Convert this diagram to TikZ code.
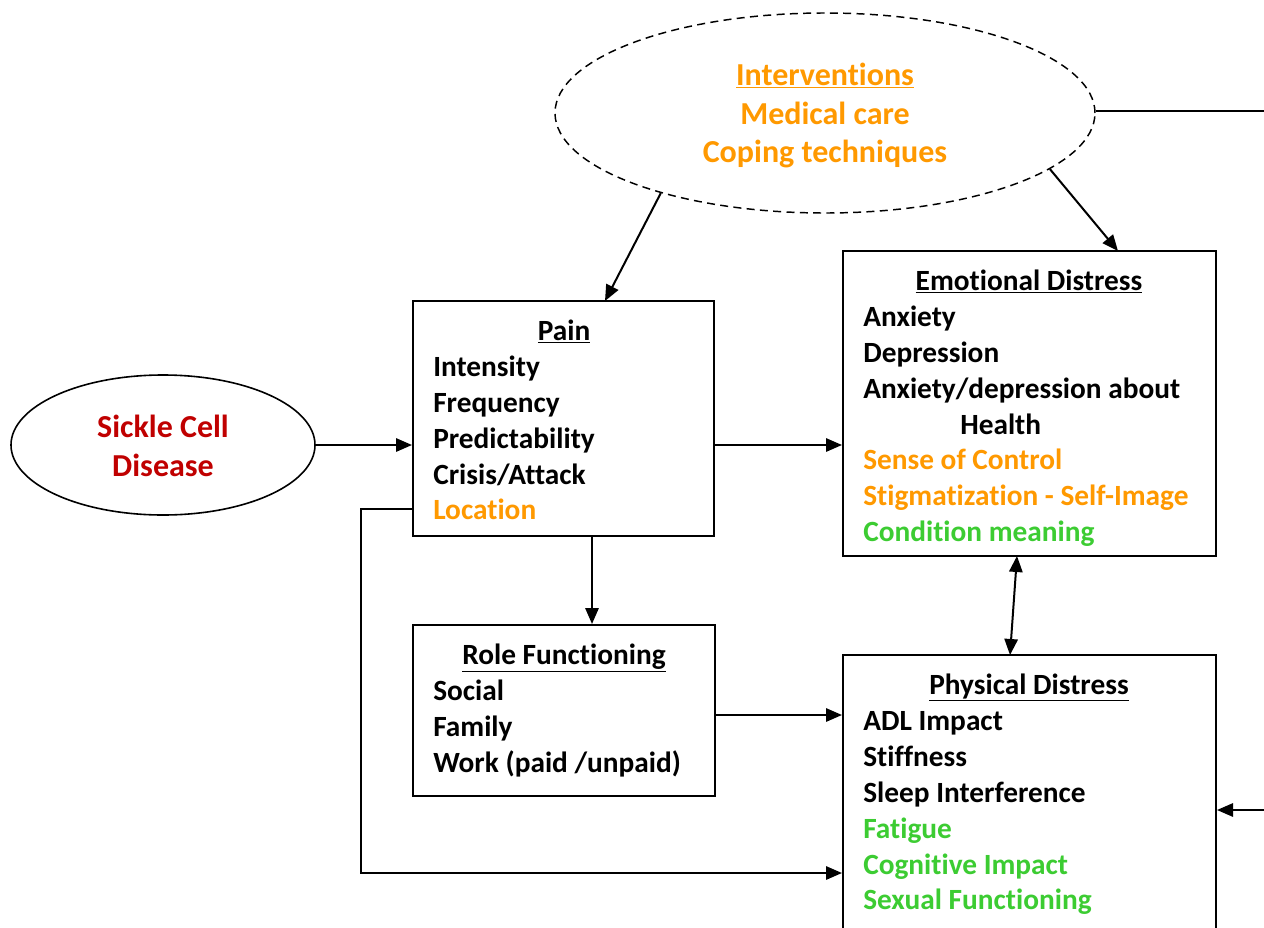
\documentclass[tikz,border=0pt]{standalone}
\usepackage{fontspec}
\setmainfont{Carlito}[Ligatures=NoCommon]
\usetikzlibrary{shapes.geometric,arrows.meta}
\definecolor{orng}{HTML}{FF9900}
\definecolor{grn}{HTML}{3CCC32}
\definecolor{dred}{HTML}{C00000}
\begin{document}
\begin{tikzpicture}[x=0.75pt,y=-0.75pt,
  font=\fontsize{22}{26}\bfseries\selectfont,
  big/.style={font=\fontsize{24}{28}\bfseries\selectfont},
  box/.style={draw,line width=1.5pt,rectangle,inner sep=0pt},
  txt/.style={anchor=base west,inner sep=0pt},
  ttl/.style={anchor=base,inner sep=0pt},
  conn/.style={line width=1.5pt,-{Triangle[length=12pt,width=10pt]}},
  plain/.style={line width=1.5pt}]
\clip (0,0) rectangle (1264,928);
\fill[white] (0,0) rectangle (1264,928);
% shapes
\node[ellipse,draw,dash pattern=on 6pt off 4pt,line width=1.1pt,minimum width=540*0.75pt,minimum height=200*0.75pt,inner sep=0pt] (interv) at (825,113) {};
\node[ellipse,draw,line width=1.2pt,minimum width=304*0.75pt,minimum height=140*0.75pt,inner sep=0pt] (sickle) at (163,445) {};
\node[box,minimum width=301*0.75pt,minimum height=235*0.75pt] (pain) at (563.5,418.5) {};
\node[box,minimum width=373*0.75pt,minimum height=305*0.75pt] (emo) at (1029.5,403.5) {};
\node[box,minimum width=302*0.75pt,minimum height=171*0.75pt] (role) at (564,710.5) {};
\node[box,minimum width=373*0.75pt,minimum height=300*0.75pt] (phys) at (1029.5,805) {};
% texts
\node[ttl,big,text=orng] (t1) at (825,85) {\underline{Interventions}};
\node[ttl,big,text=orng] (t2) at (825,124) {Medical care};
\node[ttl,big,text=orng] (t3) at (825,162) {Coping techniques};
\node[ttl,big,text=dred] (s1) at (163,437) {Sickle Cell};
\node[ttl,big,text=dred] (s2) at (163,476) {Disease};
\node[ttl] (p0) at (564,340) {\underline{Pain}};
\node[txt] (p1) at (433,376) {Intensity};
\node[txt] (p2) at (433,412) {Frequency};
\node[txt] (p3) at (433,448) {Predictability};
\node[txt] (p4) at (433,484) {Crisis/Attack};
\node[txt,text=orng] (p5) at (433,519) {Location};
\node[ttl] (e0) at (1029,290) {\underline{Emotional Distress}};
\node[txt] (e1) at (863,326) {Anxiety};
\node[txt] (e2) at (863,362) {Depression};
\node[txt] (e3) at (863,398) {Anxiety/depression about};
\node[txt] (e4) at (960,434) {Health};
\node[txt,text=orng] (e5) at (863,469) {Sense of Control};
\node[txt,text=orng] (e6) at (863,505) {Stigmatization - Self-Image};
\node[txt,text=grn] (e7) at (863,541) {Condition meaning};
\node[ttl] (r0) at (564,664) {\underline{Role Functioning}};
\node[txt] (r1) at (433,700) {Social};
\node[txt] (r2) at (433,736) {Family};
\node[txt] (r3) at (433,772) {Work (paid /unpaid)};
\node[ttl] (h0) at (1029,694) {\underline{Physical Distress}};
\node[txt] (h1) at (863,730) {ADL Impact};
\node[txt] (h2) at (863,766) {Stiffness};
\node[txt] (h3) at (863,802) {Sleep Interference};
\node[txt,text=grn] (h4) at (863,838) {Fatigue};
\node[txt,text=grn] (h5) at (863,874) {Cognitive Impact};
\node[txt,text=grn] (h6) at (863,909) {Sexual Functioning};
% coordinates
\coordinate (rightTop) at (1266,111);
\coordinate (rightBot) at (1266,810);
\coordinate (painTop) at (605,301);
\coordinate (emoTop) at (1118,251);
\coordinate (cornerA) at (361,509);
\coordinate (cornerB) at (361,873);
\coordinate (emoBot) at (1017,556);
\coordinate (physTop) at (1010,655);
% connectors
\draw[plain] (interv.east |- rightTop) -- (rightTop);
\draw[conn] (interv.206) -- (painTop);
\draw[conn] (interv.346) -- (emoTop);
\draw[conn] (sickle.east) -- (pain.west |- sickle.east);
\draw[conn] (pain.east |- sickle.east) -- (emo.west |- sickle.east);
\draw[conn] (pain.south -| 592,0) -- (role.north -| 592,0);
\draw[conn] (role.east |- 0,715) -- (phys.west |- 0,715);
\draw[conn,{Triangle[length=12pt,width=10pt]}-{Triangle[length=12pt,width=10pt]}] (emoBot) -- (physTop);
\draw[conn] (pain.west |- cornerA) -- (cornerA) -- (cornerB) -- (phys.west |- cornerB);
\draw[conn] (rightBot) -- (phys.east |- rightBot);
\end{tikzpicture}
\end{document}
